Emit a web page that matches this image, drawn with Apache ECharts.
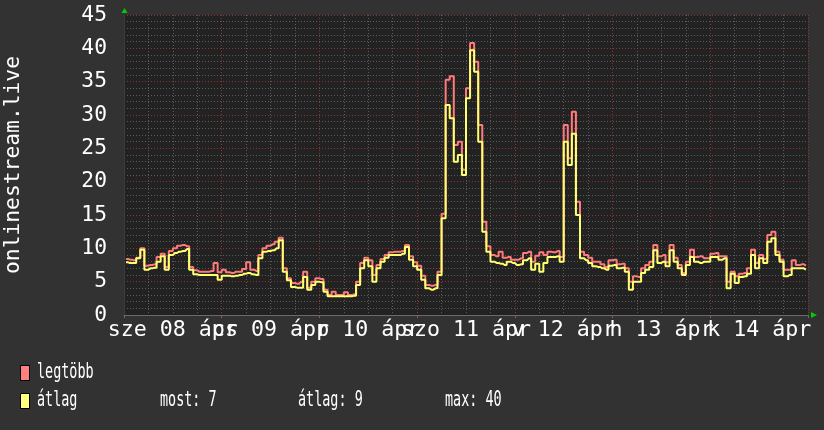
<!DOCTYPE html>
<html>
<head>
<meta charset="utf-8">
<script src="https://cdn.jsdelivr.net/npm/echarts@6/dist/echarts.min.js"></script>
<style>
html,body{margin:0;padding:0;background:#323232;}
#chart{width:824px;height:430px;}
</style>
</head>
<body>
<div id="chart"></div>
<script>
// Day labels (centered at noon of each day)
var dayLabels = ['sze 08 ápr','cs 09 ápr','p 10 ápr','szo 11 ápr','v 12 ápr','h 13 ápr','k 14 ápr'];
// Series names and colours
var seriesNames = ['legtöbb', 'átlag'];
var seriesColors = ['#ff8080', '#ffff80'];
// Hourly values, hour 0..167
var maxVals = [8.4,8.3,8.2,8.6,10.0,7.4,7.5,7.6,8.7,9.2,
 7.2,9.6,10.0,10.4,10.5,10.3,7.2,6.7,6.5,6.5,
 6.5,6.6,7.8,6.4,6.8,6.4,6.3,6.5,6.5,6.9,
 7.9,6.8,6.6,9.0,10.0,10.4,10.6,11.0,11.6,7.0,
 5.5,4.8,4.7,5.0,6.5,4.1,5.0,5.5,5.4,3.8,
 3.0,3.5,3.0,3.0,3.4,3.0,3.1,5.0,7.8,8.6,
 8.2,6.0,7.5,8.4,9.0,9.4,9.5,9.5,9.6,10.5,
 8.8,7.9,7.4,5.9,4.5,4.4,4.5,6.5,15.2,35.3,
 35.8,25.5,26.0,21.8,34.0,40.8,38.0,28.5,14.0,10.3,
 9.0,8.8,9.5,8.6,8.7,8.3,8.3,8.5,9.3,9.5,
 8.0,8.9,9.4,9.0,9.5,9.4,9.6,8.7,28.5,23.5,
 30.5,17.0,9.5,9.0,8.6,8.0,8.0,7.6,7.2,8.2,
 8.3,7.6,7.7,7.0,5.0,5.8,5.7,7.0,7.5,8.0,
 10.5,8.8,9.0,7.9,10.5,8.6,7.5,6.3,8.0,9.8,
 8.7,8.8,8.5,8.5,9.2,9.3,8.8,8.8,5.0,6.5,
 5.8,6.2,6.3,7.0,9.8,7.8,9.0,8.4,12.0,12.5,
 9.5,8.3,6.8,6.8,8.2,7.5,7.6,7.4];
var avgVals = [7.9,7.8,7.8,8.5,9.8,6.8,7.0,7.1,8.0,8.8,
 6.8,9.0,9.3,9.5,9.6,9.9,6.8,6.1,6.0,6.0,
 6.0,6.0,6.0,5.3,5.9,5.9,5.8,5.9,6.0,6.2,
 6.3,6.1,6.0,8.5,9.5,9.6,9.7,10.0,11.2,6.5,
 5.2,4.2,4.1,4.1,5.7,3.8,4.5,5.0,4.9,3.5,
 2.8,2.8,2.8,2.8,2.8,2.8,2.9,4.5,7.0,8.2,
 7.3,5.0,7.0,8.0,8.6,9.0,9.0,9.0,9.2,10.2,
 8.3,7.3,6.8,5.3,4.0,3.8,4.0,6.0,14.5,31.5,
 29.5,23.0,24.0,21.0,32.5,39.7,36.5,26.0,12.5,9.5,
 8.0,7.8,7.7,7.5,8.0,7.8,7.5,7.6,8.2,8.5,
 6.8,7.7,6.5,7.8,8.7,8.7,8.8,8.0,26.0,22.5,
 27.2,15.0,8.5,8.2,7.8,7.3,7.2,7.0,6.8,7.4,
 7.5,7.0,7.1,6.5,3.8,5.0,5.0,6.3,6.8,7.2,
 9.7,7.8,8.0,7.3,9.7,8.0,7.0,6.0,7.5,8.7,
 8.0,7.8,8.0,8.0,8.7,8.7,8.3,8.5,4.0,6.2,
 4.8,5.7,5.8,6.2,9.0,7.0,8.5,7.8,11.0,11.5,
 9.0,8.0,5.8,6.0,7.0,7.0,7.0,6.8];
// Summary texts
var statTexts = ['most: 7', 'átlag: 9', 'max: 40'];
var yTitle = 'onlinestream.live';

var FONT = '"DejaVu Sans Mono", monospace';
var majorColor = '#8a3434';
var minorColor = '#5c5c5c';

function toPairs(arr){ return arr.map(function(v,i){ return [i+0.5, v]; }); }

function smallText(txt, x, y){
  return { type: 'text', x: x, y: y, scaleX: 0.64, scaleY: 1,
    style: { text: txt, fill: '#ffffff', font: '21px "DejaVu Sans Mono"', textAlign: 'left', textVerticalAlign: 'middle' } };
}

var chart = echarts.init(document.getElementById('chart'));
chart.setOption({
  backgroundColor: '#323232',
  animation: false,
  grid: { left: 124, right: 16, top: 15, bottom: 115, show: true, backgroundColor: '#222222', borderWidth: 0,
          containLabel: false, outerBoundsMode: 'none' },
  xAxis: [{
    type: 'value', min: 0, max: 168, interval: 24,
    axisLine: { show: true, lineStyle: { color: '#6a6a6a', width: 1 } },
    axisTick: { show: true, length: 3, lineStyle: { color: '#6a6a6a' } },
    axisLabel: { show: false },
    splitLine: { show: true, lineStyle: { color: majorColor, type: [1,2], width: 1 } },
    minorTick: { show: false, splitNumber: 4 },
    minorSplitLine: { show: true, lineStyle: { color: minorColor, type: [1,2], width: 1 } }
  }, {
    type: 'value', min: 0, max: 168, interval: 12, position: 'bottom',
    axisLine: { show: false }, axisTick: { show: false }, splitLine: { show: false },
    axisLabel: {
      show: true, color: '#ffffff', fontSize: 21.6, fontFamily: FONT, margin: 4,
      hideOverlap: false, showMinLabel: true, showMaxLabel: true,
      formatter: function(v){ if (v % 24 === 12) { return dayLabels[(v-12)/24] || ''; } return ''; }
    }
  }],
  yAxis: {
    type: 'value', min: 0, max: 45, interval: 5,
    name: yTitle, nameLocation: 'middle', nameGap: 100, nameRotate: 90, nameMoveOverlap: false,
    nameTextStyle: { color: '#ffffff', fontSize: 21.3, fontFamily: FONT },
    axisLine: { show: true, lineStyle: { color: '#3c3c3c' } },
    axisTick: { show: false },
    axisLabel: { color: '#ffffff', fontSize: 21.3, fontFamily: FONT, margin: 17, align: 'right' },
    splitLine: { show: true, lineStyle: { color: majorColor, type: [1,2], width: 1 } },
    minorTick: { show: false, splitNumber: 5 },
    minorSplitLine: { show: true, lineStyle: { color: minorColor, type: [1,2], width: 1 } }
  },
  graphic: [
    { type: 'rect', shape: { x: 20.5, y: 365.5, width: 9, height: 15 }, style: { fill: seriesColors[0], stroke: '#000000', lineWidth: 1 } },
    { type: 'rect', shape: { x: 20.5, y: 393.5, width: 9, height: 15 }, style: { fill: seriesColors[1], stroke: '#000000', lineWidth: 1 } },
    smallText(seriesNames[0], 37, 373),
    smallText(seriesNames[1], 37, 401),
    smallText(statTexts[0], 160, 401),
    smallText(statTexts[1], 298, 401),
    smallText(statTexts[2], 445, 401),
    { type: 'polygon', shape: { points: [[121.5,13],[127.5,13],[124.5,8]] }, style: { fill: '#00cc00' } },
    { type: 'polygon', shape: { points: [[811,312],[811,318],[817,315]] }, style: { fill: '#00cc00' } }
  ],
  series: [{
    name: seriesNames[0], type: 'line', xAxisIndex: 0, showSymbol: false, symbol: 'none', step: 'middle',
    color: seriesColors[0], lineStyle: { color: '#ff7a7a', width: 2 },
    data: toPairs(maxVals)
  }, {
    name: seriesNames[1], type: 'line', xAxisIndex: 0, showSymbol: false, symbol: 'none', step: 'middle',
    color: seriesColors[1], lineStyle: { color: '#ffff70', width: 2 },
    data: toPairs(avgVals)
  }]
});
</script>
</body>
</html>
